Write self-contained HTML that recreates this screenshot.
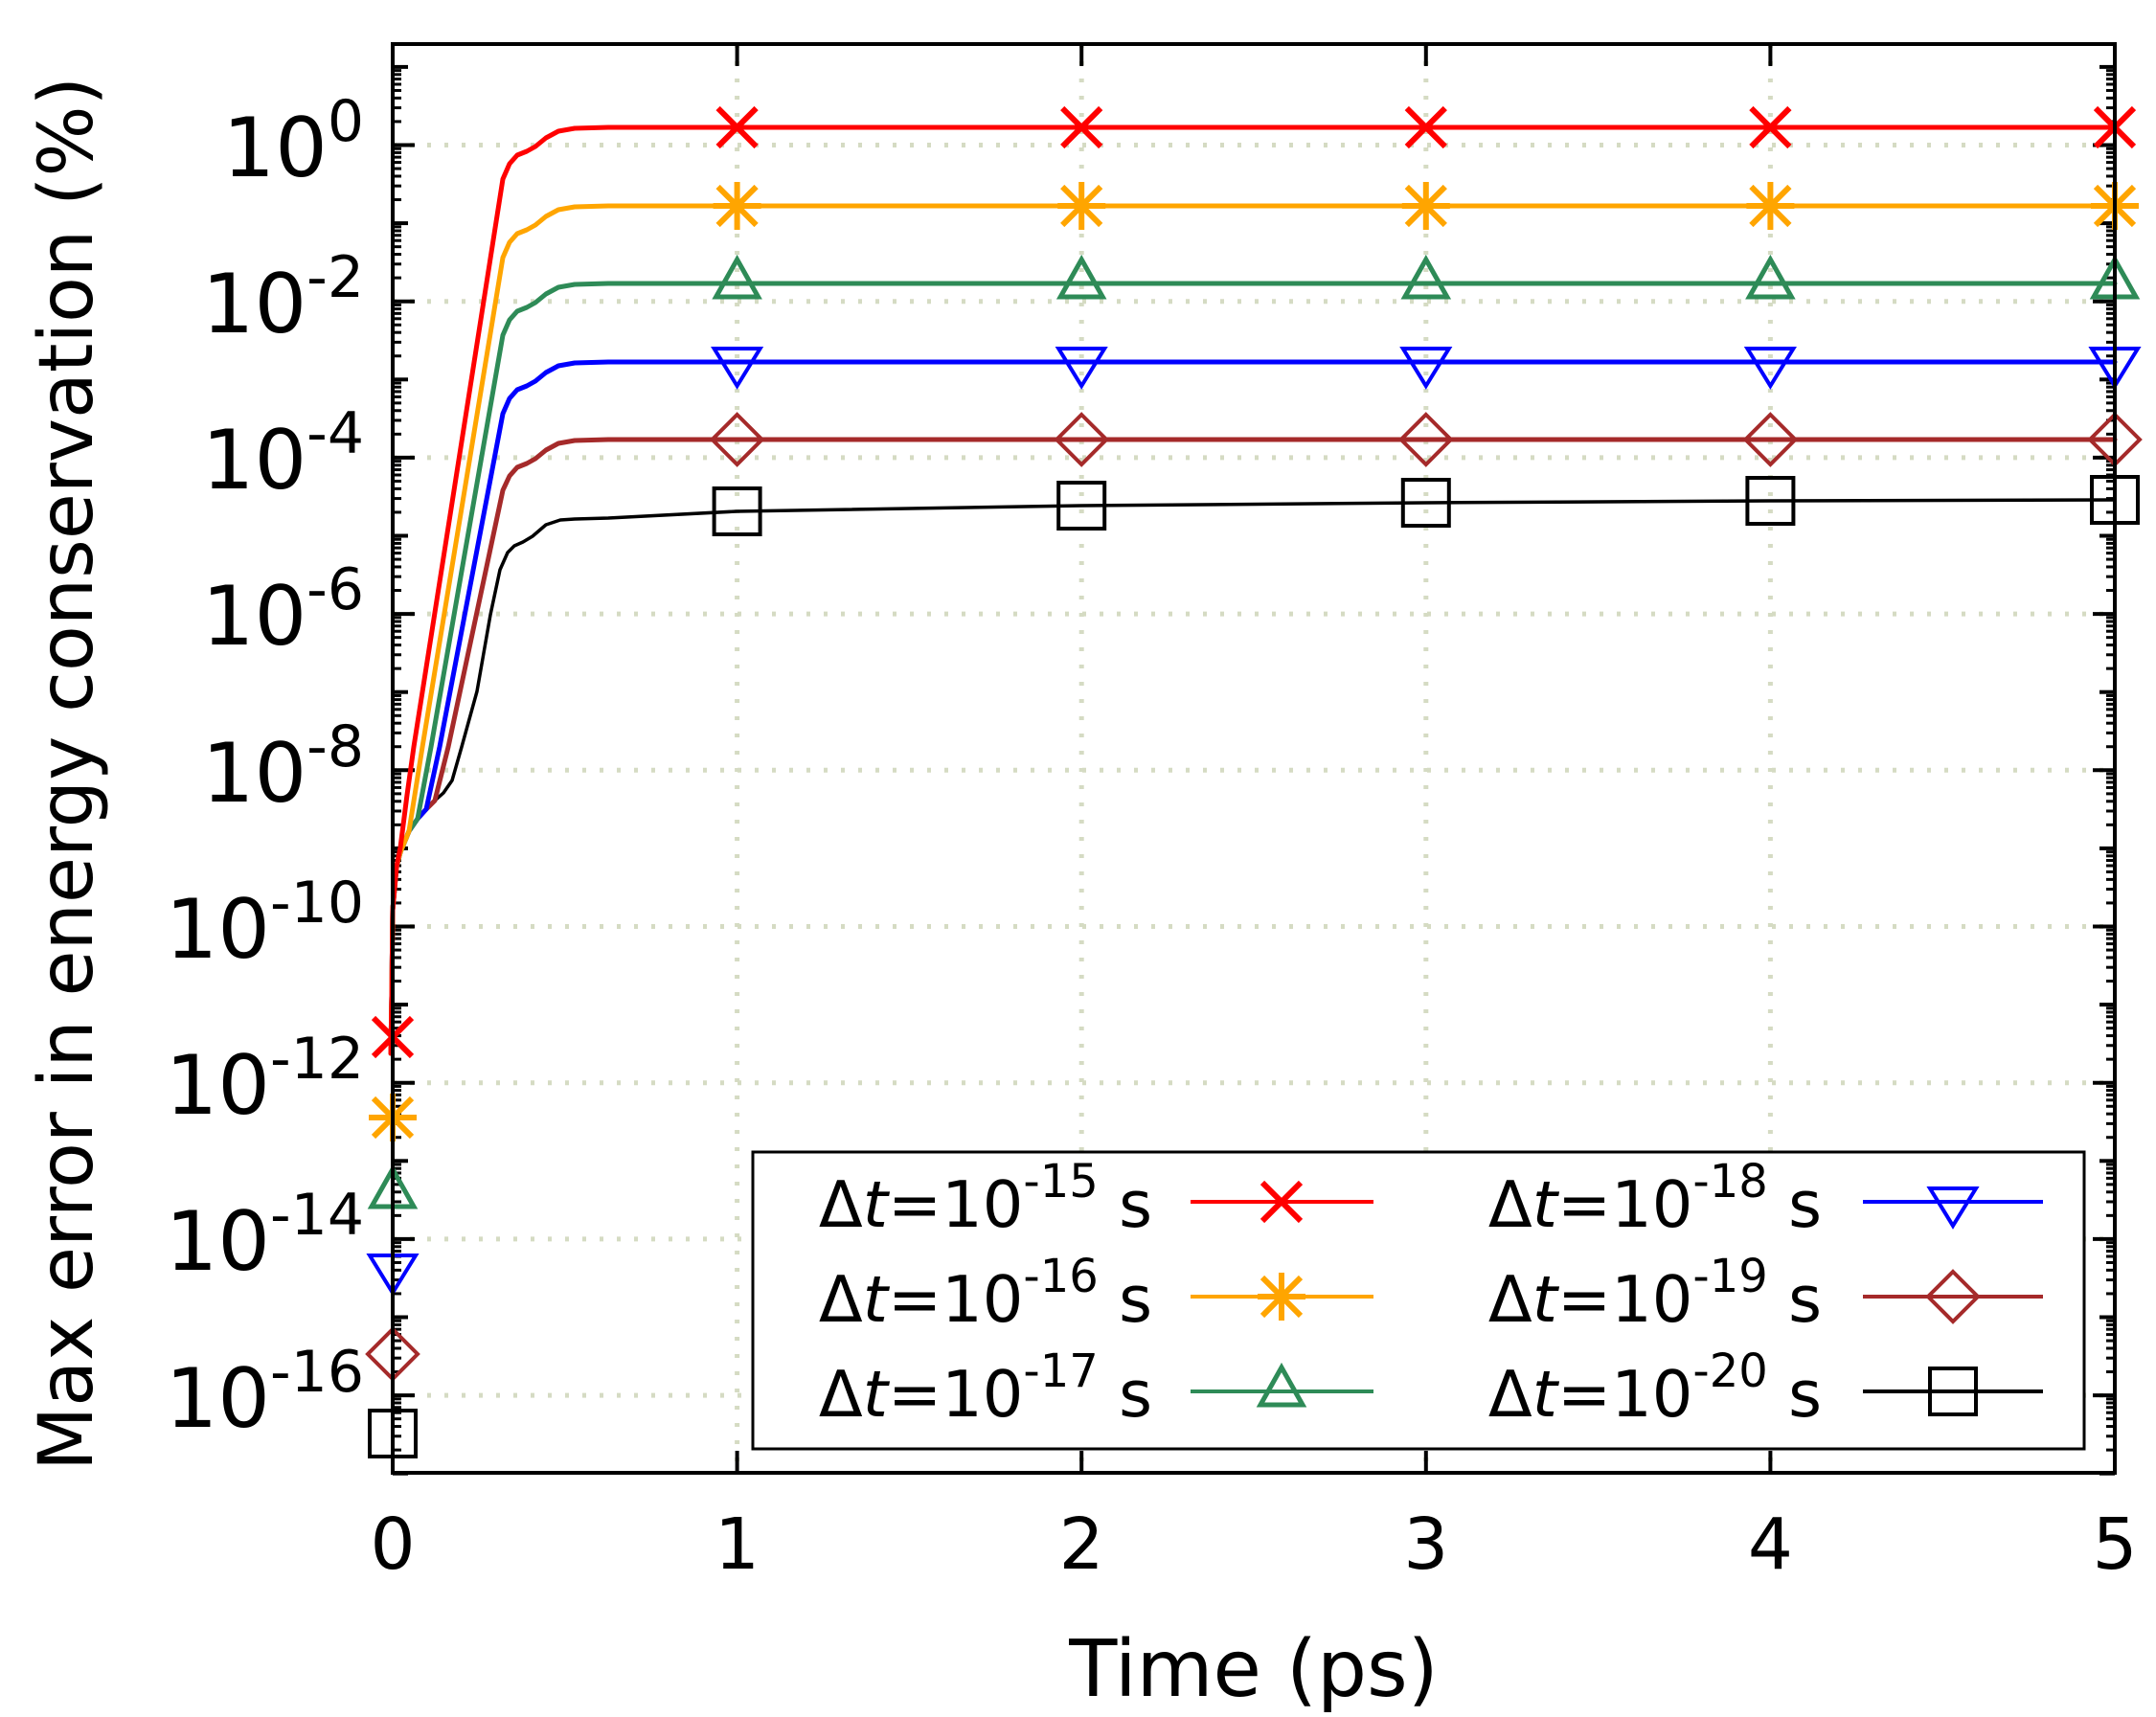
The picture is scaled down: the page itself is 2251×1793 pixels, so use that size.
<!DOCTYPE html>
<html><head><meta charset="utf-8"><style>
html,body{margin:0;padding:0;background:#fff;}
svg{display:block;}
text{font-family:"DejaVu Sans","Liberation Sans",sans-serif;fill:#000;}
</style></head><body>
<svg id="s" width="2251" height="1793" viewBox="0 0 2251 1793" xmlns="http://www.w3.org/2000/svg">
<g id="grid" stroke="#d5dbc3" stroke-width="5" stroke-dasharray="4 14" fill="none">
<line x1="410" y1="151.5" x2="2208" y2="151.5"/>
<line x1="410" y1="314.7" x2="2208" y2="314.7"/>
<line x1="410" y1="477.9" x2="2208" y2="477.9"/>
<line x1="410" y1="641.1" x2="2208" y2="641.1"/>
<line x1="410" y1="804.3" x2="2208" y2="804.3"/>
<line x1="410" y1="967.5" x2="2208" y2="967.5"/>
<line x1="410" y1="1130.7" x2="2208" y2="1130.7"/>
<line x1="410" y1="1293.9" x2="2208" y2="1293.9"/>
<line x1="410" y1="1457.1" x2="2208" y2="1457.1"/>
<line x1="769.6" y1="46" x2="769.6" y2="1538"/>
<line x1="1129.2" y1="46" x2="1129.2" y2="1538"/>
<line x1="1488.8" y1="46" x2="1488.8" y2="1538"/>
<line x1="1848.4" y1="46" x2="1848.4" y2="1538"/>
</g>
<g id="ticks" stroke="#000" stroke-width="4"></g>
<g fill="none" stroke-linejoin="round" stroke-linecap="round" stroke-width="5">
<polyline stroke="#000" stroke-width="3.5" points="408,1100 409,1040 410,950 414,905 418,890 427,868 436,855 445,845 454,836 463,828 472,815 482,780 498,722 512,642 522,595 530,577 537,570 546,566 556,560 570,548 585,543 600,542 635,541 769,534 1129,528 1489,525 1848,523 2208,522"/>
<polyline stroke="#a52a2a" points="408,1100 409,1040 410,950 414,905 418,890 427,868 436,855 445,845 454,836 468,780 525,512 532,497 540,488 550,484 559,479 570,470 583,463 600,460 635,459 2208,459"/>
<polyline stroke="#0000ff" points="408,1100 409,1040 410,950 414,905 418,890 427,868 436,855 445,845 459,780 525,432 532,416 540,407 550,403 559,398 570,389 583,382 600,379 635,378 2208,378"/>
<polyline stroke="#2e8b57" points="408,1100 409,1040 410,950 414,905 418,890 427,868 436,855 450,780 525,350 532,334 540,325 550,321 559,316 570,307 583,300 600,297 635,296 2208,296"/>
<polyline stroke="#ffa500" points="408,1100 409,1040 410,950 414,905 418,890 427,868 441,780 525,269 532,253 540,244 550,240 559,235 570,226 583,219 600,216 635,215 2208,215"/>
<polyline stroke="#ff0000" points="408,1100 409,1040 410,950 414,905 418,885 425,830 432,780 525,187 532,171 540,162 550,158 559,153 570,144 583,137 600,134 635,133 2208,133"/>
</g>
<g id="markers" fill="none" stroke-width="4"></g>
<rect x="410" y="46" width="1798" height="1492" fill="none" stroke="#000" stroke-width="4"/>
<!-- legend -->
<rect x="786" y="1203" width="1390" height="310" fill="#fff" stroke="#000" stroke-width="3"/>
<g font-size="67" text-anchor="end">
<text x="1203" y="1281">Δ<tspan font-style="italic">t</tspan>=10<tspan font-size="48" dy="-31">-15</tspan><tspan dy="31"> s</tspan></text>
<text x="1203" y="1380">Δ<tspan font-style="italic">t</tspan>=10<tspan font-size="48" dy="-31">-16</tspan><tspan dy="31"> s</tspan></text>
<text x="1203" y="1479">Δ<tspan font-style="italic">t</tspan>=10<tspan font-size="48" dy="-31">-17</tspan><tspan dy="31"> s</tspan></text>
<text x="1902" y="1281">Δ<tspan font-style="italic">t</tspan>=10<tspan font-size="48" dy="-31">-18</tspan><tspan dy="31"> s</tspan></text>
<text x="1902" y="1380">Δ<tspan font-style="italic">t</tspan>=10<tspan font-size="48" dy="-31">-19</tspan><tspan dy="31"> s</tspan></text>
<text x="1902" y="1479">Δ<tspan font-style="italic">t</tspan>=10<tspan font-size="48" dy="-31">-20</tspan><tspan dy="31"> s</tspan></text>
</g>
<g stroke-width="4">
<line x1="1243" y1="1255" x2="1434" y2="1255" stroke="#ff0000"/>
<line x1="1243" y1="1354" x2="1434" y2="1354" stroke="#ffa500"/>
<line x1="1243" y1="1453" x2="1434" y2="1453" stroke="#2e8b57"/>
<line x1="1945" y1="1255" x2="2133" y2="1255" stroke="#0000ff"/>
<line x1="1945" y1="1354" x2="2133" y2="1354" stroke="#a52a2a"/>
<line x1="1945" y1="1453" x2="2133" y2="1453" stroke="#000"/>
</g>
<g id="lmarkers" fill="none" stroke-width="4"></g>
<!-- tick labels -->
<g font-size="86" text-anchor="end">
<text x="380" y="184">10<tspan font-size="60" dy="-37">0</tspan></text>
<text x="380" y="347">10<tspan font-size="60" dy="-37">-2</tspan></text>
<text x="380" y="510">10<tspan font-size="60" dy="-37">-4</tspan></text>
<text x="380" y="673">10<tspan font-size="60" dy="-37">-6</tspan></text>
<text x="380" y="837">10<tspan font-size="60" dy="-37">-8</tspan></text>
<text x="380" y="1000">10<tspan font-size="60" dy="-37">-10</tspan></text>
<text x="380" y="1163">10<tspan font-size="60" dy="-37">-12</tspan></text>
<text x="380" y="1326">10<tspan font-size="60" dy="-37">-14</tspan></text>
<text x="380" y="1490">10<tspan font-size="60" dy="-37">-16</tspan></text>
</g>
<g font-size="74" text-anchor="middle">
<text x="410" y="1638">0</text><text x="769.6" y="1638">1</text><text x="1129.2" y="1638">2</text>
<text x="1488.8" y="1638">3</text><text x="1848.4" y="1638">4</text><text x="2208" y="1638">5</text>
</g>
<text x="1309" y="1771" font-size="82" text-anchor="middle">Time (ps)</text>
<text transform="translate(96,808) rotate(-90)" font-size="78" text-anchor="middle">Max error in energy conservation (%)</text>
</svg>
<script>
var NS="http://www.w3.org/2000/svg";
function el(p,t,a){var e=document.createElementNS(NS,t);for(var k in a)e.setAttribute(k,a[k]);p.appendChild(e);return e;}
var tk=document.getElementById("ticks");
function Y(v){return 151.5-81.6*v;}
for(var d=-17;d<=1;d++){
  for(var m=1;m<10;m++){
    var v=d+Math.log10(m); if(v<-17||v>1.29)continue;
    var y=Y(v), L=(m==1)?((d%2==0)?23:16):9, w=(m==1)?4:3;
    el(tk,"line",{x1:410,y1:y,x2:410+L,y2:y,"stroke-width":w});
    el(tk,"line",{x1:2208,y1:y,x2:2208-L,y2:y,"stroke-width":w});
  }
}
for(var i=0;i<=5;i++){var x=410+359.6*i;
  el(tk,"line",{x1:x,y1:1538,x2:x,y2:1515});
  el(tk,"line",{x1:x,y1:46,x2:x,y2:69});}
function mk(g,type,x,y,c){
  var s=20;
  if(type=="x"){el(g,"path",{d:"M"+(x-s)+" "+(y-s)+"L"+(x+s)+" "+(y+s)+"M"+(x-s)+" "+(y+s)+"L"+(x+s)+" "+(y-s),stroke:c,"stroke-width":6});}
  else if(type=="star"){el(g,"path",{d:"M"+(x-s)+" "+(y-s)+"L"+(x+s)+" "+(y+s)+"M"+(x-s)+" "+(y+s)+"L"+(x+s)+" "+(y-s)+"M"+(x-25)+" "+y+"L"+(x+25)+" "+y+"M"+x+" "+(y-25)+"L"+x+" "+(y+25),stroke:c,"stroke-width":6});}
  else if(type=="tri"){el(g,"path",{d:"M"+x+" "+(y-25)+"L"+(x+22)+" "+(y+14)+"L"+(x-22)+" "+(y+14)+"Z",stroke:c,"stroke-width":5});}
  else if(type=="dtri"){el(g,"path",{d:"M"+x+" "+(y+25)+"L"+(x+24)+" "+(y-14)+"L"+(x-24)+" "+(y-14)+"Z",stroke:c,"stroke-width":4});}
  else if(type=="dia"){el(g,"path",{d:"M"+x+" "+(y-26)+"L"+(x+26)+" "+y+"L"+x+" "+(y+26)+"L"+(x-26)+" "+y+"Z",stroke:c,"stroke-width":4});}
  else if(type=="sq"){el(g,"rect",{x:x-24,y:y-24,width:48,height:48,stroke:c,"stroke-width":4});}
}
var g=document.getElementById("markers");
var ser=[["x","#ff0000",1083,[133,133,133,133,133]],["star","#ffa500",1167,[215,215,215,215,215]],["tri","#2e8b57",1246,[296,296,296,296,296]],["dtri","#0000ff",1325,[378,378,378,378,378]],["dia","#a52a2a",1414,[459,459,459,459,459]],["sq","#000",1497,[534,528,525,523,522]]];
ser.forEach(function(s){mk(g,s[0],410,s[2],s[1]);for(var i=1;i<=5;i++)mk(g,s[0],410+359.6*i,s[3][i-1],s[1]);});
var lg=document.getElementById("lmarkers");
mk(lg,"x",1338,1255,"#ff0000");mk(lg,"star",1338,1354,"#ffa500");mk(lg,"tri",1338,1453,"#2e8b57");
mk(lg,"dtri",2039,1255,"#0000ff");mk(lg,"dia",2039,1354,"#a52a2a");mk(lg,"sq",2039,1453,"#000");
</script>
</body></html>
